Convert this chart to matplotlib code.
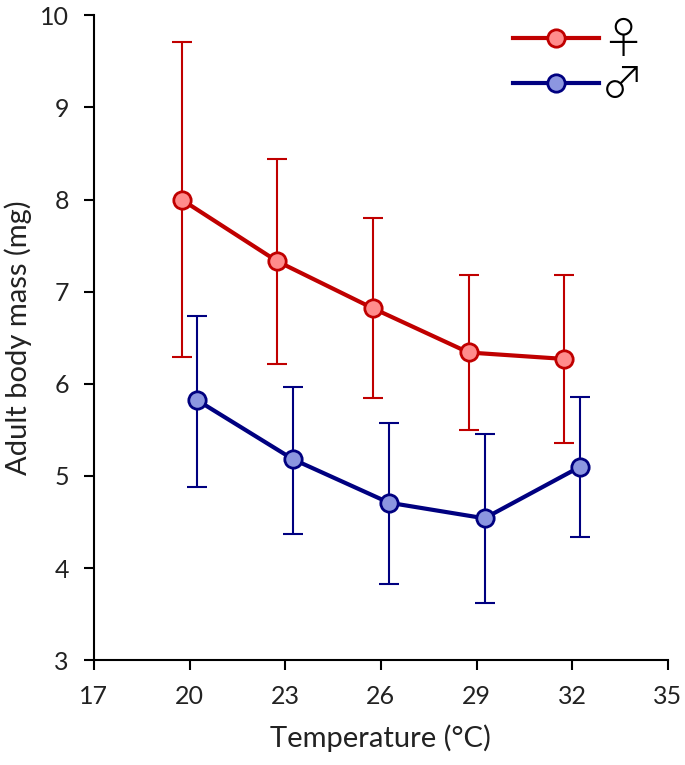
import matplotlib.pyplot as plt
import numpy as np

# --- Data ---
temps = np.array([20, 23, 26, 29, 32])
offset = 0.25  # points are shifted a little so bars don't overlap

female_mass = np.array([8.00, 7.33, 6.82, 6.34, 6.27])
female_upper = np.array([9.71, 8.44, 7.80, 7.18, 7.18])
female_lower = np.array([6.29, 6.21, 5.85, 5.50, 5.36])

male_mass = np.array([5.82, 5.18, 4.71, 4.54, 5.10])
male_upper = np.array([6.74, 5.97, 5.58, 5.45, 5.86])
male_lower = np.array([4.88, 4.37, 3.83, 3.62, 4.34])

x_ticks = [17, 20, 23, 26, 29, 32, 35]
y_ticks = [3, 4, 5, 6, 7, 8, 9, 10]

plt.rcParams['font.family'] = ['Lato', 'DejaVu Sans']

fig = plt.figure(figsize=(6.85, 7.65), dpi=100)
ax = fig.add_axes([0.137, 0.137, 0.838, 0.843])


def draw(x, mass, lo, hi, line_c, face_c, label):
    ax.errorbar(x, mass, yerr=[mass - lo, hi - mass], fmt='none',
                ecolor=line_c, elinewidth=1.5, capsize=7, capthick=1.5, zorder=2)
    ax.plot(x, mass, '-o', color=line_c, lw=3, ms=12.5, mfc=face_c,
            mec=line_c, mew=2, label=label, zorder=3)


draw(temps - offset, female_mass, female_lower, female_upper, '#C00000', '#FF8C8C', '♀')
draw(temps + offset, male_mass, male_lower, male_upper, '#000080', '#8C96E0', '♂')

ax.set_xlim(17, 35)
ax.set_ylim(3, 10)
ax.set_xticks(x_ticks)
ax.set_yticks(y_ticks)
ax.tick_params(direction='out', length=7, width=1.5, labelsize=18,
               labelcolor='#222222')
ax.tick_params(axis='x', pad=11)
ax.tick_params(axis='y', pad=11)

for s in ['top', 'right']:
    ax.spines[s].set_visible(False)
for s in ['left', 'bottom']:
    ax.spines[s].set_linewidth(1.5)

ax.set_xlabel('Temperature (°C)', fontsize=21, labelpad=12, color='#222222')
ax.set_ylabel('Adult body mass (mg)', fontsize=21, labelpad=6, color='#222222')

leg = ax.legend(loc='upper right', frameon=False, handlelength=2.0,
                prop={'family': ['Noto Sans CJK JP', 'DejaVu Sans'], 'size': 31,
                      'weight': 'light'},
                borderaxespad=0.0, labelspacing=0.0, handletextpad=0.05,
                bbox_to_anchor=(0.988, 1.022))

fig.savefig('out.png', dpi=100)
